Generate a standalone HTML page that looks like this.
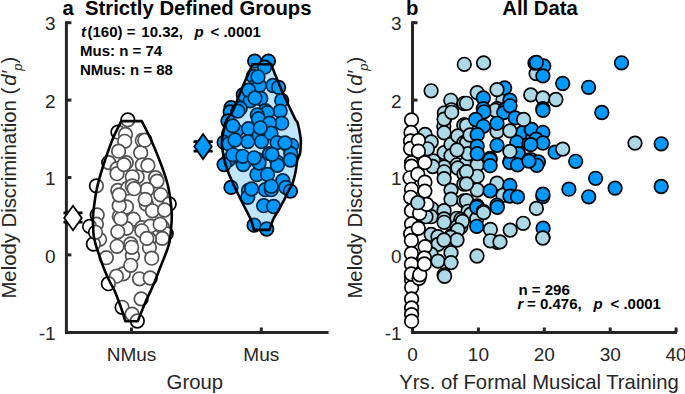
<!DOCTYPE html>
<html><head><meta charset="utf-8"><style>
html,body{margin:0;padding:0;background:#fff;overflow:hidden;}
svg{display:block;}
text{font-family:"Liberation Sans",sans-serif;fill:#262626;}
</style></head><body>
<svg width="685" height="394" viewBox="0 0 685 394">
<rect width="685" height="394" fill="#fff"/>
<path d="M66.4 21.2V332.5H328.6" fill="none" stroke="#262626" stroke-width="3"/>
<path d="M66.4 22.7H71.4" stroke="#262626" stroke-width="3"/>
<path d="M66.4 100.1H71.4" stroke="#262626" stroke-width="3"/>
<path d="M66.4 177.5H71.4" stroke="#262626" stroke-width="3"/>
<path d="M66.4 254.9H71.4" stroke="#262626" stroke-width="3"/>
<path d="M131.5 332.5V327.5" stroke="#262626" stroke-width="3"/>
<path d="M261.3 332.5V327.5" stroke="#262626" stroke-width="3"/>
<path d="M412.5 21.2V332.5H677" fill="none" stroke="#262626" stroke-width="3"/>
<path d="M412.5 22.7H417.5" stroke="#262626" stroke-width="3"/>
<path d="M412.5 100.1H417.5" stroke="#262626" stroke-width="3"/>
<path d="M412.5 177.5H417.5" stroke="#262626" stroke-width="3"/>
<path d="M412.5 254.9H417.5" stroke="#262626" stroke-width="3"/>
<path d="M478.4 332.5V327.5" stroke="#262626" stroke-width="3"/>
<path d="M544.3 332.5V327.5" stroke="#262626" stroke-width="3"/>
<path d="M610.2 332.5V327.5" stroke="#262626" stroke-width="3"/>
<path d="M676.1 332.5V327.5" stroke="#262626" stroke-width="3"/>
<g fill="#fff" stroke="#000" stroke-width="1.7"><circle cx="132.4" cy="255.7" r="6.8"/><circle cx="123.3" cy="273.9" r="6.8"/><circle cx="116.4" cy="276.2" r="6.8"/><circle cx="127.8" cy="119.9" r="6.8"/><circle cx="117.9" cy="132.1" r="6.8"/><circle cx="125.5" cy="134.4" r="6.8"/><circle cx="124.7" cy="141.3" r="6.8"/><circle cx="142.3" cy="140.5" r="6.8"/><circle cx="118.6" cy="151.2" r="6.8"/><circle cx="140.7" cy="152.7" r="6.8"/><circle cx="108.7" cy="162.6" r="6.8"/><circle cx="126.3" cy="162.6" r="6.8"/><circle cx="117.1" cy="168.7" r="6.8"/><circle cx="142.3" cy="164.9" r="6.8"/><circle cx="144.8" cy="140.2" r="6.8"/><circle cx="147.9" cy="165.4" r="6.8"/><circle cx="137.2" cy="176.8" r="6.8"/><circle cx="155.5" cy="177.6" r="6.8"/><circle cx="96.4" cy="185.9" r="6.8"/><circle cx="117.0" cy="173.7" r="6.8"/><circle cx="123.9" cy="164.6" r="6.8"/><circle cx="117.8" cy="190.5" r="6.8"/><circle cx="127.7" cy="188.2" r="6.8"/><circle cx="132.3" cy="176.8" r="6.8"/><circle cx="123.1" cy="206.5" r="6.8"/><circle cx="97.2" cy="214.9" r="6.8"/><circle cx="119.3" cy="216.4" r="6.8"/><circle cx="132.3" cy="185.9" r="6.8"/><circle cx="157.0" cy="181.1" r="6.8"/><circle cx="147.1" cy="189.5" r="6.8"/><circle cx="134.1" cy="188.7" r="6.8"/><circle cx="160.8" cy="194.8" r="6.8"/><circle cx="169.2" cy="204.0" r="6.8"/><circle cx="146.3" cy="204.0" r="6.8"/><circle cx="152.4" cy="210.8" r="6.8"/><circle cx="164.6" cy="210.0" r="6.8"/><circle cx="126.5" cy="207.0" r="6.8"/><circle cx="133.4" cy="219.2" r="6.8"/><circle cx="141.8" cy="227.6" r="6.8"/><circle cx="150.2" cy="226.1" r="6.8"/><circle cx="162.3" cy="226.8" r="6.8"/><circle cx="126.5" cy="228.4" r="6.8"/><circle cx="166.2" cy="233.7" r="6.8"/><circle cx="96.4" cy="224.1" r="6.8"/><circle cx="89.6" cy="226.4" r="6.8"/><circle cx="99.5" cy="239.4" r="6.8"/><circle cx="93.4" cy="244.0" r="6.8"/><circle cx="120.8" cy="218.8" r="6.8"/><circle cx="117.8" cy="231.8" r="6.8"/><circle cx="117.0" cy="246.3" r="6.8"/><circle cx="106.3" cy="257.7" r="6.8"/><circle cx="130.7" cy="244.0" r="6.8"/><circle cx="130.7" cy="265.3" r="6.8"/><circle cx="141.8" cy="230.8" r="6.8"/><circle cx="162.3" cy="238.4" r="6.8"/><circle cx="149.4" cy="239.1" r="6.8"/><circle cx="149.4" cy="247.5" r="6.8"/><circle cx="151.7" cy="258.2" r="6.8"/><circle cx="139.5" cy="278.8" r="6.8"/><circle cx="150.2" cy="278.0" r="6.8"/><circle cx="108.4" cy="283.7" r="6.8"/><circle cx="141.1" cy="298.9" r="6.8"/><circle cx="122.1" cy="307.3" r="6.8"/><circle cx="132.0" cy="314.1" r="6.8"/><circle cx="137.3" cy="321.0" r="6.8"/><circle cx="95.5" cy="232.3" r="6.8"/><circle cx="119.2" cy="205.7" r="6.8"/><circle cx="119.2" cy="195.0" r="6.8"/><circle cx="160.1" cy="224.2" r="6.8"/><circle cx="146.8" cy="238.4" r="6.8"/><circle cx="131.7" cy="247.3" r="6.8"/><circle cx="145.2" cy="199.4" r="6.8"/></g>
<g fill="#0099ff" stroke="#000" stroke-width="1.7"><circle cx="254.7" cy="61.1" r="6.8"/><circle cx="268.4" cy="61.1" r="6.8"/><circle cx="264.6" cy="67.2" r="6.8"/><circle cx="253.2" cy="76.4" r="6.8"/><circle cx="257.0" cy="84.0" r="6.8"/><circle cx="259.3" cy="85.5" r="6.8"/><circle cx="243.3" cy="94.7" r="6.8"/><circle cx="250.2" cy="100.8" r="6.8"/><circle cx="260.8" cy="98.5" r="6.8"/><circle cx="231.1" cy="107.6" r="6.8"/><circle cx="240.2" cy="108.4" r="6.8"/><circle cx="273.0" cy="85.5" r="6.8"/><circle cx="265.4" cy="110.7" r="6.8"/><circle cx="248.6" cy="90.1" r="6.8"/><circle cx="258.0" cy="76.8" r="6.8"/><circle cx="278.6" cy="87.4" r="6.8"/><circle cx="255.0" cy="98.0" r="6.8"/><circle cx="281.7" cy="100.4" r="6.8"/><circle cx="280.2" cy="111.1" r="6.8"/><circle cx="267.2" cy="112.6" r="6.8"/><circle cx="257.3" cy="114.9" r="6.8"/><circle cx="230.2" cy="111.9" r="6.8"/><circle cx="237.9" cy="111.1" r="6.8"/><circle cx="228.0" cy="121.0" r="6.8"/><circle cx="236.3" cy="130.9" r="6.8"/><circle cx="228.7" cy="134.0" r="6.8"/><circle cx="224.1" cy="142.3" r="6.8"/><circle cx="228.7" cy="143.9" r="6.8"/><circle cx="248.5" cy="128.6" r="6.8"/><circle cx="247.8" cy="141.6" r="6.8"/><circle cx="258.4" cy="118.7" r="6.8"/><circle cx="259.2" cy="135.5" r="6.8"/><circle cx="261.5" cy="141.6" r="6.8"/><circle cx="239.4" cy="156.8" r="6.8"/><circle cx="228.7" cy="159.9" r="6.8"/><circle cx="245.5" cy="161.4" r="6.8"/><circle cx="258.4" cy="159.9" r="6.8"/><circle cx="281.7" cy="123.2" r="6.8"/><circle cx="269.5" cy="123.2" r="6.8"/><circle cx="271.0" cy="133.2" r="6.8"/><circle cx="260.3" cy="127.8" r="6.8"/><circle cx="287.0" cy="144.6" r="6.8"/><circle cx="291.6" cy="145.3" r="6.8"/><circle cx="290.8" cy="153.7" r="6.8"/><circle cx="269.5" cy="153.7" r="6.8"/><circle cx="277.1" cy="162.1" r="6.8"/><circle cx="224.1" cy="164.6" r="6.8"/><circle cx="243.2" cy="164.6" r="6.8"/><circle cx="256.9" cy="174.5" r="6.8"/><circle cx="231.0" cy="187.4" r="6.8"/><circle cx="248.5" cy="190.5" r="6.8"/><circle cx="247.7" cy="197.3" r="6.8"/><circle cx="263.7" cy="205.7" r="6.8"/><circle cx="265.3" cy="189.7" r="6.8"/><circle cx="259.1" cy="163.0" r="6.8"/><circle cx="277.4" cy="165.3" r="6.8"/><circle cx="290.4" cy="160.0" r="6.8"/><circle cx="267.5" cy="174.5" r="6.8"/><circle cx="282.8" cy="180.6" r="6.8"/><circle cx="285.8" cy="187.4" r="6.8"/><circle cx="251.5" cy="189.0" r="6.8"/><circle cx="271.3" cy="189.7" r="6.8"/><circle cx="273.6" cy="206.5" r="6.8"/><circle cx="254.1" cy="225.2" r="6.8"/><circle cx="266.7" cy="229.0" r="6.8"/><circle cx="232.8" cy="125.9" r="6.8"/><circle cx="277.0" cy="142.6" r="6.8"/><circle cx="232.8" cy="154.8" r="6.8"/><circle cx="242.7" cy="156.3" r="6.8"/><circle cx="254.1" cy="157.8" r="6.8"/><circle cx="285.0" cy="142.9" r="6.8"/><circle cx="272.1" cy="154.4" r="6.8"/><circle cx="271.3" cy="186.3" r="6.8"/><circle cx="290.4" cy="191.1" r="6.8"/><circle cx="235.0" cy="140.0" r="6.8"/></g>
<path d="M121.4 121.1C119.9 124.3 115.1 132.9 112.1 140.4C109.1 147.9 105.7 157.8 103.2 165.8C100.7 173.8 98.6 180.4 96.9 188.6C95.2 196.8 93.7 208.9 93.1 215.0C92.5 221.1 93.0 221.7 93.1 225.0C93.2 228.3 93.2 231.6 93.6 234.8C94.0 238.0 94.7 240.9 95.5 244.0C96.3 247.1 97.5 250.1 98.5 253.1C99.5 256.1 100.5 259.2 101.5 262.0C102.5 264.8 103.4 267.3 104.5 270.0C105.6 272.7 106.8 275.5 108.0 278.0C109.2 280.5 110.5 283.0 111.5 285.0C112.5 287.0 113.0 287.2 114.3 290.0C115.5 292.8 117.6 298.3 119.0 302.0C120.4 305.7 121.5 308.8 122.5 312.0C123.5 315.2 124.8 319.7 125.3 321.2L137.8 321.2C138.3 319.8 139.7 316.2 141.0 313.0C142.3 309.8 143.9 305.7 145.5 302.0C147.1 298.3 149.2 294.1 150.8 290.6C152.4 287.1 153.5 284.8 155.0 281.0C156.5 277.2 158.5 271.8 160.0 268.0C161.5 264.2 162.8 261.0 164.0 258.0C165.2 255.0 166.2 252.7 167.1 250.0C168.0 247.3 168.8 245.3 169.5 242.0C170.2 238.7 170.6 234.5 171.0 230.0C171.4 225.5 171.8 219.2 171.8 215.0C171.8 210.8 171.6 209.8 171.0 205.0C170.4 200.2 169.6 192.5 168.0 186.0C166.4 179.5 164.4 173.4 161.6 165.8C158.8 158.2 154.7 147.9 151.4 140.4C148.1 132.9 143.3 124.3 141.7 121.1Z" fill="#fff" fill-opacity="0.32" stroke="#000" stroke-width="2.6" stroke-linejoin="round"/>
<path d="M252.6 64.2C251.5 66.7 248.1 74.2 246.0 79.0C243.9 83.8 242.2 87.6 240.0 93.0C237.8 98.4 234.9 107.0 232.6 111.5C230.3 116.0 228.1 116.2 226.4 120.2C224.7 124.2 223.3 131.4 222.6 135.5C221.8 139.6 221.8 141.3 221.9 144.6C222.0 147.9 222.8 151.9 223.4 155.3C224.0 158.7 224.7 161.7 225.7 165.0C226.7 168.3 227.6 170.9 229.4 175.2C231.2 179.4 234.0 185.7 236.3 190.5C238.6 195.3 240.6 199.2 243.0 204.0C245.4 208.8 249.0 215.2 250.8 219.5C252.6 223.8 253.4 228.2 253.9 229.9L269.4 229.9C270.0 228.2 271.5 223.2 272.9 220.0C274.3 216.8 276.2 214.1 278.0 211.0C279.8 207.9 281.8 204.4 283.5 201.2C285.2 198.0 286.5 195.1 288.0 192.0C289.5 188.9 291.4 186.2 292.7 182.9C293.9 179.6 294.7 175.8 295.5 172.0C296.3 168.2 296.6 163.1 297.3 160.0C298.1 156.9 299.4 156.2 300.0 153.7C300.6 151.2 300.6 147.5 300.7 145.0C300.8 142.5 301.2 142.1 300.7 138.5C300.2 134.9 298.6 126.4 297.7 123.2C296.8 120.0 297.0 122.7 295.4 119.5C293.8 116.3 290.3 108.8 288.0 104.0C285.7 99.2 283.5 94.7 281.7 90.5C279.9 86.3 278.1 81.8 277.0 79.0C275.9 76.2 275.8 76.2 274.8 73.7C273.8 71.2 271.8 65.8 271.2 64.2Z" fill="#0099ff" fill-opacity="0.25" stroke="#000" stroke-width="2.6" stroke-linejoin="round"/>
<path d="M63.5 212.9H82.5M63.5 222.2H82.5M73 212.9V222.2" stroke="#000" stroke-width="2.8"/><path d="M73 205.8L81.8 218L73 230.2L64.2 218Z" fill="#fff" stroke="#000" stroke-width="1.8" stroke-linejoin="miter"/>
<path d="M193.5 141.6H212.7M193.5 151.1H212.7M203.1 141.6V151.1" stroke="#000" stroke-width="2.8"/><path d="M203.1 134.1L211.8 146.6L203.1 159.1L194.3 146.6Z" fill="#0099ff" stroke="#000" stroke-width="1.8" stroke-linejoin="miter"/>
<g fill="#add8e6" stroke="#000" stroke-width="1.7"><circle cx="431.1" cy="90.8" r="6.8"/><circle cx="464.3" cy="64.3" r="6.8"/><circle cx="483.6" cy="62.9" r="6.8"/><circle cx="450.8" cy="100.3" r="6.8"/><circle cx="464.1" cy="103.5" r="6.8"/><circle cx="451.4" cy="109.8" r="6.8"/><circle cx="444.4" cy="113.0" r="6.8"/><circle cx="444.4" cy="119.4" r="6.8"/><circle cx="443.8" cy="126.3" r="6.8"/><circle cx="464.1" cy="125.0" r="6.8"/><circle cx="477.2" cy="92.6" r="6.8"/><circle cx="503.0" cy="99.5" r="6.8"/><circle cx="466.5" cy="103.3" r="6.8"/><circle cx="497.0" cy="108.6" r="6.8"/><circle cx="536.1" cy="73.6" r="6.8"/><circle cx="530.8" cy="94.9" r="6.8"/><circle cx="542.9" cy="98.0" r="6.8"/><circle cx="555.9" cy="99.5" r="6.8"/><circle cx="425.1" cy="134.4" r="6.8"/><circle cx="431.2" cy="142.0" r="6.8"/><circle cx="427.4" cy="148.8" r="6.8"/><circle cx="433.5" cy="161.0" r="6.8"/><circle cx="444.1" cy="119.1" r="6.8"/><circle cx="451.7" cy="112.3" r="6.8"/><circle cx="444.1" cy="132.8" r="6.8"/><circle cx="444.1" cy="152.6" r="6.8"/><circle cx="451.0" cy="144.2" r="6.8"/><circle cx="451.0" cy="155.7" r="6.8"/><circle cx="463.9" cy="125.2" r="6.8"/><circle cx="457.8" cy="135.9" r="6.8"/><circle cx="463.9" cy="142.7" r="6.8"/><circle cx="457.0" cy="164.8" r="6.8"/><circle cx="465.4" cy="164.0" r="6.8"/><circle cx="444.1" cy="167.0" r="6.8"/><circle cx="495.4" cy="110.3" r="6.8"/><circle cx="497.0" cy="131.6" r="6.8"/><circle cx="466.5" cy="125.5" r="6.8"/><circle cx="466.5" cy="143.0" r="6.8"/><circle cx="477.2" cy="161.3" r="6.8"/><circle cx="468.0" cy="153.7" r="6.8"/><circle cx="635.0" cy="143.1" r="6.8"/><circle cx="432.7" cy="166.5" r="6.8"/><circle cx="432.0" cy="209.0" r="6.8"/><circle cx="431.2" cy="216.7" r="6.8"/><circle cx="444.1" cy="171.8" r="6.8"/><circle cx="444.1" cy="178.7" r="6.8"/><circle cx="457.8" cy="168.0" r="6.8"/><circle cx="463.9" cy="174.1" r="6.8"/><circle cx="463.9" cy="184.0" r="6.8"/><circle cx="451.0" cy="190.1" r="6.8"/><circle cx="451.0" cy="199.2" r="6.8"/><circle cx="463.9" cy="200.8" r="6.8"/><circle cx="444.1" cy="210.7" r="6.8"/><circle cx="444.1" cy="219.0" r="6.8"/><circle cx="457.0" cy="218.3" r="6.8"/><circle cx="468.5" cy="213.7" r="6.8"/><circle cx="426.0" cy="216.7" r="6.8"/><circle cx="477.2" cy="164.9" r="6.8"/><circle cx="477.2" cy="176.3" r="6.8"/><circle cx="477.2" cy="190.0" r="6.8"/><circle cx="466.5" cy="171.7" r="6.8"/><circle cx="466.5" cy="183.9" r="6.8"/><circle cx="466.5" cy="200.7" r="6.8"/><circle cx="497.0" cy="183.2" r="6.8"/><circle cx="468.0" cy="211.3" r="6.8"/><circle cx="503.0" cy="195.3" r="6.8"/><circle cx="470.7" cy="214.1" r="6.8"/><circle cx="476.7" cy="218.7" r="6.8"/><circle cx="460.8" cy="219.5" r="6.8"/><circle cx="460.8" cy="227.1" r="6.8"/><circle cx="490.4" cy="229.4" r="6.8"/><circle cx="497.3" cy="242.3" r="6.8"/><circle cx="490.4" cy="240.8" r="6.8"/><circle cx="510.2" cy="230.1" r="6.8"/><circle cx="523.2" cy="223.3" r="6.8"/><circle cx="477.0" cy="256.0" r="6.8"/><circle cx="543.1" cy="237.3" r="6.8"/><circle cx="500.0" cy="241.9" r="6.8"/><circle cx="431.2" cy="234.5" r="6.8"/><circle cx="438.0" cy="236.7" r="6.8"/><circle cx="438.0" cy="244.4" r="6.8"/><circle cx="431.2" cy="254.2" r="6.8"/><circle cx="438.0" cy="261.1" r="6.8"/><circle cx="444.1" cy="222.3" r="6.8"/><circle cx="451.0" cy="236.0" r="6.8"/><circle cx="457.0" cy="226.8" r="6.8"/><circle cx="451.0" cy="252.7" r="6.8"/><circle cx="451.0" cy="262.6" r="6.8"/><circle cx="444.1" cy="274.8" r="6.8"/><circle cx="462.4" cy="221.5" r="6.8"/><circle cx="444.6" cy="276.3" r="6.8"/><circle cx="457.8" cy="230.0" r="6.8"/><circle cx="450.7" cy="237.1" r="6.8"/><circle cx="457.0" cy="150.0" r="6.8"/><circle cx="470.0" cy="135.0" r="6.8"/><circle cx="457.0" cy="240.0" r="6.8"/><circle cx="444.0" cy="240.0" r="6.8"/></g>
<g fill="#0099ff" stroke="#000" stroke-width="1.7"><circle cx="621.5" cy="62.8" r="6.8"/><circle cx="535.0" cy="63.0" r="6.8"/><circle cx="543.7" cy="66.0" r="6.8"/><circle cx="536.4" cy="62.5" r="6.8"/><circle cx="542.9" cy="75.9" r="6.8"/><circle cx="562.7" cy="83.5" r="6.8"/><circle cx="588.6" cy="87.3" r="6.8"/><circle cx="601.8" cy="112.5" r="6.8"/><circle cx="542.9" cy="108.6" r="6.8"/><circle cx="483.3" cy="98.0" r="6.8"/><circle cx="483.3" cy="108.6" r="6.8"/><circle cx="504.6" cy="88.0" r="6.8"/><circle cx="509.9" cy="100.2" r="6.8"/><circle cx="505.0" cy="109.4" r="6.8"/><circle cx="484.0" cy="111.8" r="6.8"/><circle cx="503.8" cy="112.6" r="6.8"/><circle cx="510.0" cy="105.8" r="6.8"/><circle cx="515.2" cy="117.9" r="6.8"/><circle cx="475.7" cy="119.5" r="6.8"/><circle cx="483.3" cy="126.3" r="6.8"/><circle cx="497.0" cy="123.3" r="6.8"/><circle cx="522.8" cy="132.4" r="6.8"/><circle cx="531.2" cy="129.4" r="6.8"/><circle cx="477.2" cy="134.7" r="6.8"/><circle cx="497.0" cy="145.3" r="6.8"/><circle cx="516.8" cy="142.3" r="6.8"/><circle cx="529.0" cy="143.8" r="6.8"/><circle cx="532.7" cy="137.7" r="6.8"/><circle cx="518.3" cy="153.7" r="6.8"/><circle cx="477.2" cy="146.1" r="6.8"/><circle cx="477.2" cy="153.7" r="6.8"/><circle cx="490.1" cy="158.3" r="6.8"/><circle cx="509.9" cy="161.3" r="6.8"/><circle cx="529.0" cy="159.8" r="6.8"/><circle cx="542.9" cy="110.3" r="6.8"/><circle cx="531.5" cy="129.4" r="6.8"/><circle cx="542.9" cy="132.4" r="6.8"/><circle cx="536.1" cy="139.2" r="6.8"/><circle cx="542.9" cy="143.0" r="6.8"/><circle cx="530.8" cy="144.6" r="6.8"/><circle cx="555.1" cy="152.2" r="6.8"/><circle cx="575.7" cy="161.3" r="6.8"/><circle cx="531.5" cy="159.8" r="6.8"/><circle cx="538.4" cy="162.0" r="6.8"/><circle cx="661.2" cy="143.8" r="6.8"/><circle cx="615.1" cy="188.1" r="6.8"/><circle cx="661.2" cy="186.5" r="6.8"/><circle cx="595.6" cy="178.3" r="6.8"/><circle cx="568.9" cy="189.2" r="6.8"/><circle cx="588.7" cy="196.8" r="6.8"/><circle cx="536.8" cy="165.3" r="6.8"/><circle cx="542.9" cy="196.5" r="6.8"/><circle cx="542.9" cy="194.2" r="6.8"/><circle cx="490.1" cy="159.6" r="6.8"/><circle cx="490.1" cy="165.7" r="6.8"/><circle cx="509.9" cy="162.6" r="6.8"/><circle cx="517.5" cy="164.9" r="6.8"/><circle cx="528.9" cy="161.1" r="6.8"/><circle cx="490.1" cy="190.8" r="6.8"/><circle cx="509.9" cy="185.4" r="6.8"/><circle cx="509.9" cy="196.1" r="6.8"/><circle cx="517.5" cy="196.9" r="6.8"/><circle cx="497.0" cy="205.2" r="6.8"/><circle cx="477.2" cy="206.0" r="6.8"/><circle cx="476.7" cy="207.3" r="6.8"/><circle cx="497.3" cy="207.3" r="6.8"/><circle cx="476.7" cy="226.3" r="6.8"/><circle cx="543.1" cy="228.2" r="6.8"/></g>
<g fill="#add8e6" stroke="#000" stroke-width="1.7"><circle cx="497.0" cy="89.6" r="6.8"/><circle cx="523.6" cy="119.5" r="6.8"/><circle cx="509.9" cy="130.9" r="6.8"/><circle cx="509.9" cy="151.4" r="6.8"/><circle cx="562.7" cy="149.1" r="6.8"/><circle cx="483.3" cy="211.3" r="6.8"/><circle cx="536.4" cy="208.4" r="6.8"/><circle cx="483.6" cy="212.6" r="6.8"/><circle cx="542.8" cy="238.0" r="6.8"/></g>
<g fill="#fff" stroke="#000" stroke-width="1.7"><circle cx="411.5" cy="119.9" r="6.8"/><circle cx="411.0" cy="132.5" r="6.8"/><circle cx="410.5" cy="141.0" r="6.8"/><circle cx="410.5" cy="148.5" r="6.8"/><circle cx="411.5" cy="162.6" r="6.8"/><circle cx="411.5" cy="166.2" r="6.8"/><circle cx="410.0" cy="177.8" r="6.8"/><circle cx="411.5" cy="189.3" r="6.8"/><circle cx="410.7" cy="197.3" r="6.8"/><circle cx="411.5" cy="210.7" r="6.8"/><circle cx="411.5" cy="224.0" r="6.8"/><circle cx="410.7" cy="233.7" r="6.8"/><circle cx="411.4" cy="240.5" r="6.8"/><circle cx="411.4" cy="253.5" r="6.8"/><circle cx="411.4" cy="264.1" r="6.8"/><circle cx="411.6" cy="275.0" r="6.8"/><circle cx="411.6" cy="280.0" r="6.8"/><circle cx="411.6" cy="287.3" r="6.8"/><circle cx="411.6" cy="298.9" r="6.8"/><circle cx="411.6" cy="308.0" r="6.8"/><circle cx="411.6" cy="314.6" r="6.8"/><circle cx="411.6" cy="321.2" r="6.8"/><circle cx="411.4" cy="274.0" r="6.8"/><circle cx="418.4" cy="140.4" r="6.8"/><circle cx="418.4" cy="151.2" r="6.8"/><circle cx="417.8" cy="174.2" r="6.8"/><circle cx="419.6" cy="213.3" r="6.8"/><circle cx="418.3" cy="228.4" r="6.8"/><circle cx="419.0" cy="278.3" r="6.8"/><circle cx="419.8" cy="274.8" r="6.8"/><circle cx="424.8" cy="162.6" r="6.8"/><circle cx="424.9" cy="182.2" r="6.8"/><circle cx="424.9" cy="191.1" r="6.8"/><circle cx="426.7" cy="204.4" r="6.8"/><circle cx="425.1" cy="246.6" r="6.8"/><circle cx="424.4" cy="258.0" r="6.8"/><circle cx="424.4" cy="264.0" r="6.8"/></g>
<g fill="#add8e6" stroke="#000" stroke-width="1.7"><circle cx="417.8" cy="202.7" r="6.8"/></g>
<text x="55.6" y="30.3" font-size="19" text-anchor="end" font-weight="normal">3</text>
<text x="401.7" y="30.3" font-size="19" text-anchor="end" font-weight="normal">3</text>
<text x="55.6" y="107.7" font-size="19" text-anchor="end" font-weight="normal">2</text>
<text x="401.7" y="107.7" font-size="19" text-anchor="end" font-weight="normal">2</text>
<text x="55.6" y="185.1" font-size="19" text-anchor="end" font-weight="normal">1</text>
<text x="401.7" y="185.1" font-size="19" text-anchor="end" font-weight="normal">1</text>
<text x="55.6" y="262.5" font-size="19" text-anchor="end" font-weight="normal">0</text>
<text x="401.7" y="262.5" font-size="19" text-anchor="end" font-weight="normal">0</text>
<text x="55.6" y="339.9" font-size="19" text-anchor="end" font-weight="normal">-1</text>
<text x="401.7" y="339.9" font-size="19" text-anchor="end" font-weight="normal">-1</text>
<text x="131.5" y="361.0" font-size="19" text-anchor="middle" font-weight="normal">NMus</text>
<text x="261.3" y="361.0" font-size="19" text-anchor="middle" font-weight="normal">Mus</text>
<text x="412.5" y="361.0" font-size="19" text-anchor="middle" font-weight="normal">0</text>
<text x="478.4" y="361.0" font-size="19" text-anchor="middle" font-weight="normal">10</text>
<text x="544.3" y="361.0" font-size="19" text-anchor="middle" font-weight="normal">20</text>
<text x="610.2" y="361.0" font-size="19" text-anchor="middle" font-weight="normal">30</text>
<text x="676.1" y="361.0" font-size="19" text-anchor="middle" font-weight="normal">40</text>
<text x="194.8" y="388.8" font-size="20.3" text-anchor="middle" font-weight="normal">Group</text>
<text x="539.0" y="388.5" font-size="20.3" text-anchor="middle" font-weight="normal">Yrs. of Formal Musical Training</text>
<text transform="translate(16,177.6) rotate(-90)" font-size="20.3" text-anchor="middle">Melody Discrimination (<tspan font-style="italic" dx="2">d′</tspan><tspan font-style="italic" font-size="13" dy="5.5">p</tspan><tspan dy="-5.5">)</tspan></text>
<text transform="translate(362,177.6) rotate(-90)" font-size="20.3" text-anchor="middle">Melody Discrimination (<tspan font-style="italic" dx="2">d′</tspan><tspan font-style="italic" font-size="13" dy="5.5">p</tspan><tspan dy="-5.5">)</tspan></text>
<text x="62.5" y="15" font-size="20.3" font-weight="bold" style="fill:#000">a</text>
<text x="85" y="15" font-size="20.3" font-weight="bold" style="fill:#000">Strictly Defined Groups</text>
<text x="406" y="15" font-size="20.3" font-weight="bold" style="fill:#000">b</text>
<text x="540" y="15" font-size="20.3" font-weight="bold" style="fill:#000" text-anchor="middle">All Data</text>
<text y="37" font-size="15" font-weight="bold" style="fill:#000" xml:space="preserve"><tspan x="81" font-style="italic">t</tspan><tspan x="87.5">(160) =</tspan><tspan x="141.3">10.32,</tspan><tspan x="194.5" font-style="italic">p</tspan><tspan x="210.5">&lt; .0001</tspan></text>
<text x="80" y="56" font-size="15" font-weight="bold" style="fill:#000">Mus: n = 74</text>
<text x="80" y="74.5" font-size="15" font-weight="bold" style="fill:#000">NMus: n = 88</text>
<text x="518.5" y="294.5" font-size="15" font-weight="bold" style="fill:#000">n = 296</text>
<text y="308.5" font-size="15" font-weight="bold" style="fill:#000" xml:space="preserve"><tspan x="517.5" font-style="italic">r</tspan><tspan x="527">=</tspan><tspan x="540">0.476,</tspan><tspan x="593.5" font-style="italic">p</tspan><tspan x="610.5">&lt; .0001</tspan></text>
</svg>
</body></html>
